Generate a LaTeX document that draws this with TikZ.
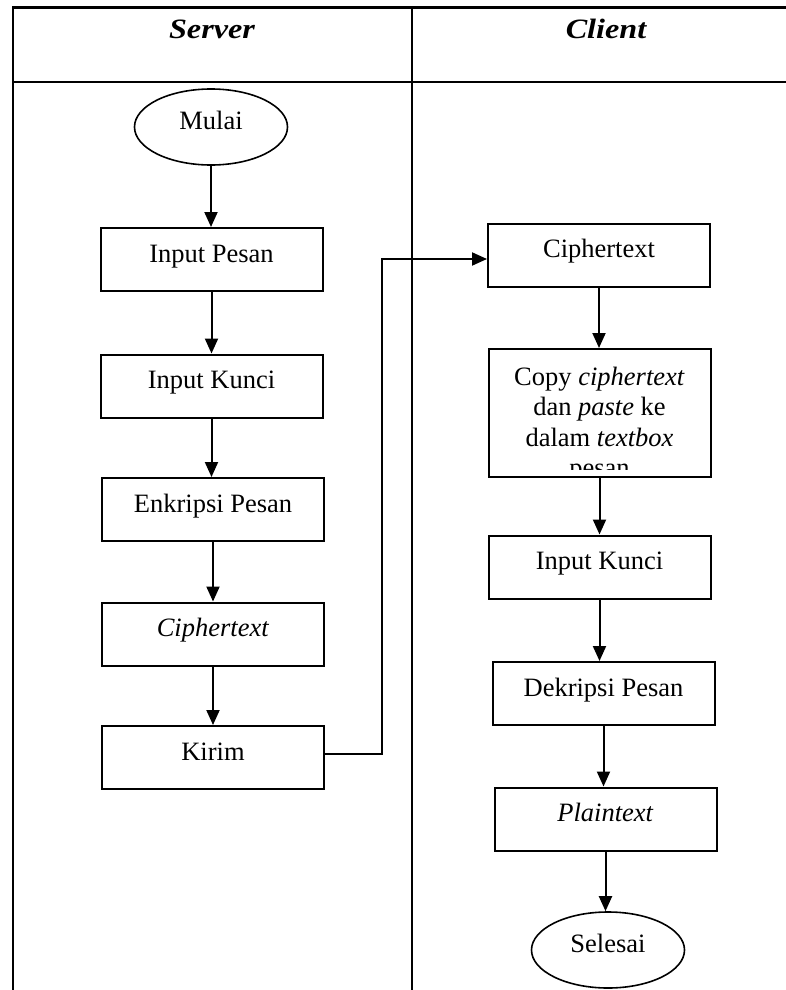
\documentclass[tikz,border=0pt]{standalone}
\usepackage{fontspec}
\setmainfont{Liberation Serif}
\usepackage{graphicx}
\usetikzlibrary{shapes.geometric, arrows.meta}

\begin{document}
\begin{tikzpicture}[x=1pt, y=-1pt,
    every node/.style={font=\fontsize{26.5}{30.5}\selectfont},
    lane/.style={line width=2.2pt},
    lanehead/.style={font=\fontsize{28}{32}\selectfont\bfseries\itshape, anchor=base},
    procbox/.style={draw, line width=2pt, minimum width=222pt, minimum height=63pt,
                    inner sep=0pt, text height=18pt, text depth=13pt},
    terminal/.style={draw, ellipse, line width=1.6pt, minimum width=153pt,
                     minimum height=76pt, text height=18pt, text depth=13pt},
    flow/.style={line width=2pt, -{Triangle[width=13pt, length=15pt]}}]
  \clip (0,0) rectangle (786,990);
  % Lanes
  \draw[lane] (13.3,995) -- (13.3,7.5) -- (800,7.5);
  \draw[lane] (13.3,82.3) -- (800,82.3);
  \draw[lane] (411.7,7.5) -- (411.7,995);
  \node[lanehead] (server) at (212,38) {\scalebox{1.15}[1]{Server}};
  \node[lanehead] (client) at (606,38) {\scalebox{1.15}[1]{Client}};
  % Server
  \node[terminal] (mulai) at (211,127) {Mulai};
  \node[procbox] (inpesan) at (211.5,259.5) {Input Pesan};
  \node[procbox] (inkunci) at (211.5,386) {Input Kunci};
  \node[procbox] (enkripsi) at (213,509.5) {Enkripsi Pesan};
  \node[procbox] (cipher) at (213,634) {\textit{Ciphertext}};
  \node[procbox] (kirim) at (213,757.5) {Kirim};
  % Client
  \node[procbox] (terima) at (599,255) {Ciphertext};
  \node[procbox, minimum height=128pt] (salin) at (599.5,413) {};
  \begin{scope}
    % last line is cut by the box
    \clip (salin.north west) rectangle ([yshift=8.5pt]salin.south east);
    \node[anchor=north, align=center, inner sep=0pt] (salintext)
      at ([yshift=-18.5pt]salin.north)
      {Copy \textit{ciphertext}\\dan \textit{paste} ke\\dalam \textit{textbox}\\pesan};
  \end{scope}
  \node[procbox] (kunci2) at (599.5,567) {Input Kunci};
  \node[procbox] (dekripsi) at (603.5,693.5) {Dekripsi Pesan};
  \node[procbox] (plain) at (605.5,819) {\textit{Plaintext}};
  \node[terminal] (selesai) at (608,950) {Selesai};
  % Arrows
  \draw[flow] (mulai.south) -- (mulai.south |- inpesan.north);
  \draw[flow] (inpesan.south) -- (inpesan.south |- inkunci.north);
  \draw[flow] (inkunci.south) -- (inkunci.south |- enkripsi.north);
  \draw[flow] (enkripsi.south) -- (enkripsi.south |- cipher.north);
  \draw[flow] (cipher.south) -- (cipher.south |- kirim.north);
  \draw[flow] ([yshift=4pt]kirim.east) -- ++(57,0) |- ([yshift=-4pt]terima.west);
  \draw[flow] (terima.south) -- (terima.south |- salin.north);
  \draw[flow] (salin.south) -- (salin.south |- kunci2.north);
  \draw[flow] (kunci2.south) -- (kunci2.south |- dekripsi.north);
  \draw[flow] (dekripsi.south) -- (dekripsi.south |- plain.north);
  \draw[flow] (plain.south) -- (plain.south |- selesai.north);
\end{tikzpicture}
\end{document}
